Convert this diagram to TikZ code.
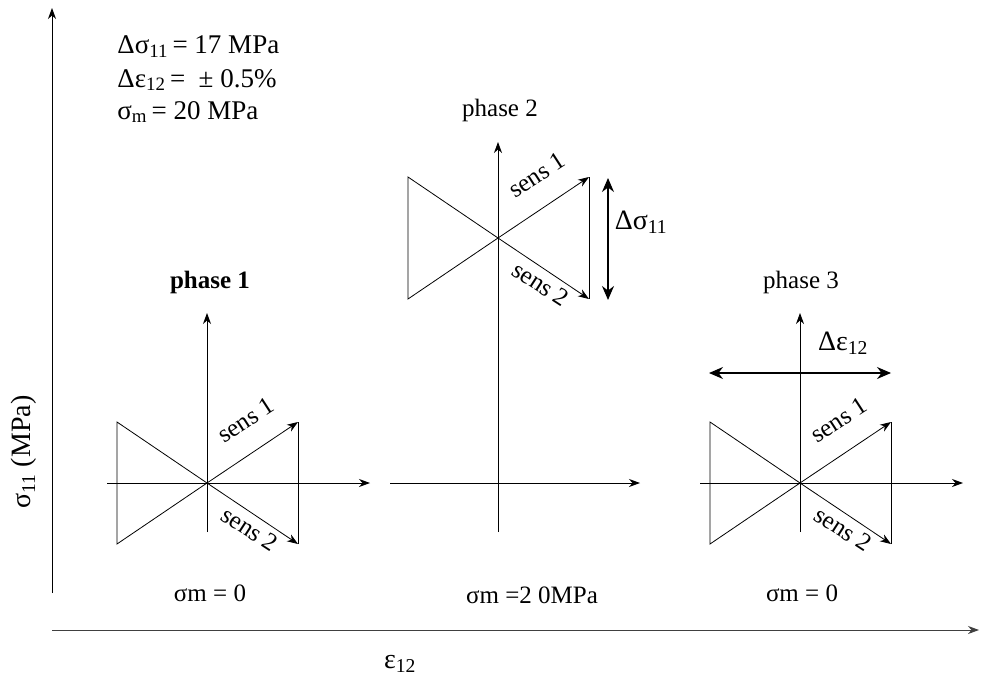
\documentclass[tikz,border=0pt]{standalone}
\usepackage{amsmath}
\usepackage{fontspec}
\setmainfont{Liberation Serif}
\usetikzlibrary{arrows.meta, calc}

% small lowered index in the text font
\newcommand{\ix}[1]{$_{\text{#1}}$}

\tikzset{
  axis/.style={->},
  bigtip/.style={{Stealth[length=14pt,width=12pt]}-{Stealth[length=14pt,width=12pt]}, line width=1.3pt},
  senslbl/.style={font=\fontsize{25}{27}\selectfont, inner sep=0pt},
  txt/.style={font=\fontsize{25}{28}\selectfont, inner sep=0pt},
  datatxt/.style={font=\fontsize{27}{30}\selectfont, inner sep=0pt, anchor=west},
  bigtxt/.style={font=\fontsize{28}{30}\selectfont, inner sep=0pt}
}

\begin{document}
\begin{tikzpicture}[x=1pt, y=-1pt, >={Stealth[length=11pt,width=8pt,inset=3.5pt]}, line width=0.8pt]
  \useasboundingbox (0,0) rectangle (981,685);

  % Main axes
  \coordinate (yb) at (52,593);
  \coordinate (yt) at (52,8);
  \coordinate (xb) at (52,630);
  \coordinate (xt) at (979,630);
  \draw[axis] (yb) -- (yt);
  \draw[axis, black!75] (xb) -- (xt);
  \node[bigtxt, rotate=90] (ylbl) at (24,452) {σ\ix{11} (MPa)};
  \node[bigtxt] (xlbl) at (400,664) {ε\ix{12}};

  % Loading data
  \node[datatxt] (d1) at (117,47) {Δσ\ix{11}\,= 17 MPa};
  \node[datatxt] (d2) at (117,80) {Δε\ix{12}\,=~ ± 0.5\%};
  \node[datatxt] (d3) at (117,112) {σ\ix{m}\,= 20 MPa};

  % The three phases: name / axis x / bowtie centre y / axis top / axis left / axis right
  \foreach \n/\ox/\by/\top/\xl/\xr in {a/207/483/313/107/370, b/498/238/142/390/640, c/800/483/313/700/963} {
    \coordinate (\n o) at (\ox,483);
    \coordinate (\n c) at (\ox,\by);
    \coordinate (\n tl) at (\ox-90,\by-61);
    \coordinate (\n bl) at (\ox-90,\by+61);
    \coordinate (\n tr) at (\ox+91,\by-61);
    \coordinate (\n br) at (\ox+91,\by+61);
    \coordinate (\n vb) at (\ox,532);
    \coordinate (\n vt) at (\ox,\top);
    \coordinate (\n hl) at (\xl,483);
    \coordinate (\n hr) at (\xr,483);
    % axes
    \draw[axis] (\n vb) -- (\n vt);
    \draw[axis] (\n hl) -- (\n hr);
    % bowtie
    \draw (\n tr) -- (\n br);
    \draw (\n c) -- (\n tl) -- (\n bl) -- (\n c);
    \draw[->] (\n c) -- (\n tr);
    \draw[->] (\n c) -- (\n br);
    \node[senslbl, rotate=33] (\n s1) at ($(\n c)+(39,-63)$) {sens 1};
    \node[senslbl, rotate=-33] (\n s2) at ($(\n c)+(43,46)$) {sens 2};
  }

  % Titles
  \node[txt, font=\fontsize{25}{28}\selectfont\bfseries] (t1) at (210,282) {phase 1};
  \node[txt] (t2) at (500,110) {phase 2};
  \node[txt] (t3) at (801,282) {phase 3};

  % Amplitudes
  \coordinate (s1) at (608,178);
  \coordinate (s2) at (608,300);
  \draw[bigtip] (s1) -- (s2);
  \node[bigtxt] (ds) at (641,222) {Δσ\ix{11}};
  \coordinate (e1) at (709,373);
  \coordinate (e2) at (891,373);
  \draw[bigtip] (e1) -- (e2);
  \node[bigtxt] (de) at (843,343) {Δε\ix{12}};

  % Mean stress
  \node[txt] (m1) at (210,593) {σm = 0};
  \node[txt] (m2) at (532,595) {σm =2 0MPa};
  \node[txt] (m3) at (802,593) {σm = 0};
\end{tikzpicture}
\end{document}
